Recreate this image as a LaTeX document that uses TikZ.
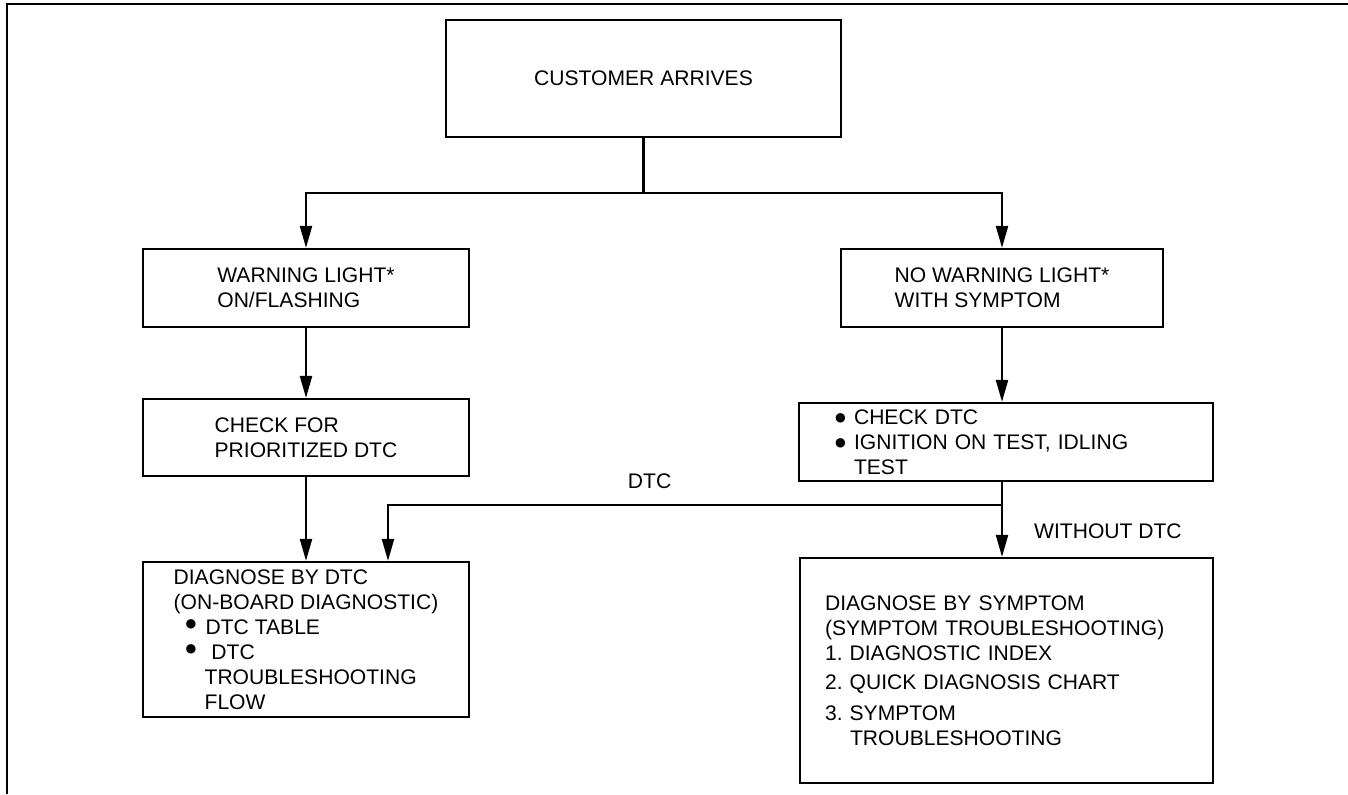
\documentclass[tikz,border=0pt]{standalone}
\usepackage{fontspec}
\setmainfont{Liberation Sans}
\newfontfamily\bulfont{DejaVu Sans}
\usetikzlibrary{arrows.meta}
\frenchspacing

\begin{document}
\begin{tikzpicture}[
    x=0.02cm, y=-0.02cm,
    >={Triangle[length=4.4mm, width=2.4mm]},
    flowbox/.style={draw, line width=1.3pt, align=left, inner sep=0pt, font={\fontsize{12}{14.2}\selectfont}},
    flowlabel/.style={inner sep=0pt, font={\fontsize{12}{14.2}\selectfont}},
    flowline/.style={line width=1.3pt},
    flowarrow/.style={->, line width=1.3pt}
]
\useasboundingbox (0,0) rectangle (1348,794);
\draw[line width=1.4pt] (7,794) -- (7,4) -- (1348,4);

\node[flowbox, minimum width=7.9cm, minimum height=2.34cm] (arrive) at (643.5,78.5) {CUSTOMER ARRIVES};
\node[flowbox, minimum width=6.52cm, minimum height=1.56cm] (warn) at (306,288) {WARNING LIGHT*\\ON/FLASHING};
\node[flowbox, minimum width=6.44cm, minimum height=1.56cm] (nowarn) at (1002,288) {NO WARNING LIGHT*\\WITH SYMPTOM};
\node[flowbox, minimum width=6.52cm, minimum height=1.54cm] (chkprio) at (306,437.5) {CHECK FOR\\PRIORITIZED DTC};
\node[flowbox, minimum width=8.28cm, minimum height=1.56cm, text width=6.84cm] (chkdtc) at (1006,442) {%
  \makebox[0.38cm][l]{\raisebox{0.05cm}{\bulfont\fontsize{7}{7}\selectfont ●}}CHECK DTC\\
  \makebox[0.38cm][l]{\raisebox{0.05cm}{\bulfont\fontsize{7}{7}\selectfont ●}}IGNITION ON TEST, IDLING\\
  \hspace*{0.38cm}TEST};
\node[flowbox, minimum width=6.52cm, minimum height=3.1cm] (bydtc) at (306,639.5) {%
  DIAGNOSE BY DTC\\
  (ON-BOARD DIAGNOSTIC)\\
  \hspace*{0.24cm}\makebox[0.4cm][l]{\raisebox{0.13cm}{\bulfont\fontsize{7}{7}\selectfont ●}}DTC TABLE\\
  \hspace*{0.24cm}\makebox[0.4cm][l]{\raisebox{0.13cm}{\bulfont\fontsize{7}{7}\selectfont ●}} DTC\\
  \hspace*{0.62cm}TROUBLESHOOTING\\
  \hspace*{0.62cm}FLOW};
\node[flowbox, minimum width=8.26cm, minimum height=4.5cm, text width=7.26cm] (bysym) at (1006.5,670.5) {%
  DIAGNOSE BY SYMPTOM\\
  (SYMPTOM TROUBLESHOOTING)\\
  1. DIAGNOSTIC INDEX\\[0.08cm]
  2. QUICK DIAGNOSIS CHART\\[0.12cm]
  3. SYMPTOM\\
  \hspace*{0.5cm}TROUBLESHOOTING};

\coordinate (fork) at (643.5,193);
\coordinate (split) at (1002,505);

\draw[flowline] (arrive) -- (fork);
\draw[flowarrow] (fork) -| (warn);
\draw[flowarrow] (fork) -| (nowarn);
\draw[flowarrow] (warn) -- (chkprio);
\draw[flowarrow] (chkprio) -- (bydtc);
\draw[flowarrow] (nowarn) -- (nowarn |- chkdtc.north);
\draw[flowarrow] (chkdtc.south -| split) -- (split) -- node[flowlabel, pos=0.5, right=0.62cm] {WITHOUT DTC} (bysym.north -| split);
\draw[flowarrow] (split) -| node[flowlabel, pos=0.287, above=0.3cm] {DTC} ([xshift=1.64cm]bydtc.north);
\end{tikzpicture}
\end{document}
